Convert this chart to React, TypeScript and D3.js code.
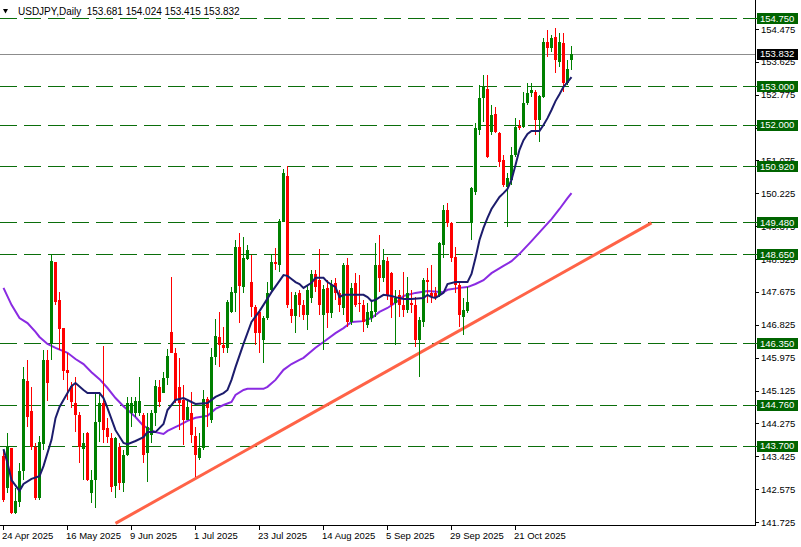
import React from 'react';
import * as d3 from 'd3';

// USDJPY daily candles (oldest first)
const opens = [
  143.43, 142.60, 143.63, 141.95, 142.25, 143.04, 145.37, 144.60, 143.67, 142.34,
  143.73, 145.91, 146.35, 148.44, 147.47, 146.74, 145.66, 145.24, 144.79, 144.49,
  143.60, 144.03, 142.47, 142.81, 144.30, 144.79, 144.15, 143.89, 142.66, 143.67,
  142.73, 143.46, 144.54, 144.54, 144.54, 144.49, 143.51, 143.98, 144.54, 145.22,
  145.06, 145.45, 146.64, 146.10, 145.22, 144.88, 144.36, 144.54, 143.95, 143.38,
  143.64, 144.91, 144.36, 145.99, 146.51, 146.30, 146.23, 147.16, 147.65, 148.84,
  147.80, 148.53, 147.93, 147.29, 147.16, 146.43, 147.00, 147.73, 148.45, 148.37,
  149.48, 150.67, 147.23, 147.05, 147.65, 147.34, 147.08, 147.52, 148.14, 147.98,
  147.08, 147.78, 147.13, 147.91, 147.65, 147.26, 148.37, 146.90, 147.91, 147.39,
  147.34, 146.82, 147.00, 147.16, 148.37, 148.04, 148.48, 148.17, 147.39, 147.60,
  147.34, 147.21, 147.39, 147.34, 146.43, 146.90, 147.98, 147.65, 147.65, 147.60,
  148.89, 149.79, 149.46, 148.58, 147.86, 147.03, 147.18, 149.46, 150.26, 151.86,
  152.69, 152.92, 151.81, 152.28, 151.78, 151.09, 150.39, 150.57, 151.22, 151.97,
  151.94, 152.56, 152.82, 152.85, 152.12, 152.72, 154.14, 153.98, 154.27, 153.62,
  154.11, 153.08, 153.681,
];
const highs = [
  143.59, 144.03, 143.64, 142.60, 143.24, 145.73, 145.91, 145.22, 143.76, 143.94,
  146.17, 146.17, 148.66, 148.46, 147.68, 146.74, 146.09, 145.35, 145.48, 144.58,
  144.02, 144.06, 143.07, 145.05, 145.05, 146.28, 144.42, 144.02, 143.93, 143.76,
  143.59, 144.97, 144.97, 144.97, 145.48, 144.54, 144.54, 144.62, 145.40, 145.40,
  145.60, 146.20, 148.06, 146.23, 145.97, 145.27, 144.88, 145.09, 144.18, 144.02,
  145.14, 144.96, 146.23, 146.97, 147.16, 146.77, 147.47, 147.80, 149.02, 149.20,
  149.10, 148.89, 148.63, 147.34, 147.16, 147.05, 147.93, 148.66, 148.81, 149.56,
  150.86, 150.93, 147.67, 147.67, 147.73, 147.47, 147.86, 148.24, 148.24, 148.79,
  147.86, 147.98, 147.98, 148.04, 147.73, 148.42, 148.55, 147.91, 148.17, 148.11,
  147.47, 147.39, 147.47, 148.94, 149.15, 148.79, 148.58, 148.19, 147.73, 147.73,
  148.19, 148.06, 147.73, 147.55, 147.03, 148.04, 148.29, 148.37, 147.80, 148.97,
  149.92, 149.97, 149.48, 148.84, 147.91, 147.52, 147.80, 150.39, 152.04, 153.03,
  153.29, 153.29, 152.51, 152.46, 151.81, 151.22, 150.75, 151.42, 152.17, 152.12,
  152.85, 153.08, 153.08, 152.90, 152.77, 154.24, 154.45, 154.32, 154.50, 154.37,
  154.37, 153.67, 154.024,
];
const lows = [
  142.24, 142.47, 141.94, 141.93, 142.12, 142.81, 144.19, 143.59, 142.30, 142.30,
  143.59, 144.86, 145.91, 147.34, 146.17, 145.40, 144.88, 144.67, 144.06, 143.24,
  142.81, 142.79, 142.21, 142.08, 143.80, 143.76, 143.76, 142.51, 142.34, 142.55,
  142.51, 143.42, 144.19, 144.45, 144.47, 143.24, 142.77, 143.76, 144.21, 144.70,
  145.06, 145.27, 146.10, 144.80, 144.10, 143.72, 144.36, 143.76, 142.89, 143.33,
  143.59, 144.18, 144.29, 145.79, 145.73, 146.10, 146.10, 147.13, 147.16, 146.87,
  147.65, 148.50, 147.03, 146.30, 146.10, 145.84, 146.95, 147.70, 148.24, 148.19,
  149.48, 147.26, 146.87, 146.61, 147.03, 146.95, 146.69, 147.39, 147.67, 147.08,
  146.17, 146.74, 147.00, 147.47, 147.16, 147.08, 146.77, 146.82, 147.29, 147.16,
  146.64, 146.74, 146.90, 147.03, 147.67, 147.93, 147.47, 147.00, 146.30, 147.03,
  147.03, 147.13, 147.13, 146.25, 145.47, 146.77, 147.39, 147.39, 147.47, 147.55,
  148.55, 149.36, 148.45, 147.65, 146.77, 146.56, 147.13, 149.02, 150.18, 151.73,
  152.07, 151.14, 151.73, 151.78, 150.91, 150.39, 149.36, 150.44, 151.16, 151.86,
  151.91, 152.51, 152.72, 151.73, 151.55, 152.69, 153.75, 153.88, 153.34, 153.49,
  152.85, 153.03, 153.415,
];
const closes = [
  142.30, 143.67, 141.95, 142.27, 143.04, 145.42, 144.45, 143.67, 142.34, 143.80,
  145.91, 145.33, 148.47, 147.42, 146.72, 145.63, 145.59, 144.84, 144.48, 143.67,
  143.76, 142.81, 142.81, 144.30, 144.80, 144.10, 143.93, 142.64, 143.89, 142.73,
  143.46, 144.81, 144.81, 144.86, 144.86, 143.46, 144.19, 144.54, 145.24, 144.83,
  145.45, 146.02, 146.10, 144.88, 144.80, 144.36, 144.70, 143.98, 143.46, 143.64,
  144.91, 144.68, 145.99, 146.54, 146.30, 146.23, 147.42, 147.67, 148.84, 147.83,
  148.55, 148.76, 147.29, 146.61, 146.61, 147.00, 147.65, 148.45, 148.40, 149.51,
  150.75, 147.34, 147.05, 147.60, 147.34, 147.08, 147.73, 148.14, 147.80, 147.34,
  147.75, 147.13, 147.86, 147.65, 147.34, 148.37, 146.90, 147.78, 147.34, 147.36,
  146.90, 147.16, 147.18, 148.37, 148.04, 148.50, 147.60, 147.34, 147.52, 147.34,
  147.21, 147.65, 147.34, 146.43, 146.95, 147.98, 147.93, 147.55, 147.55, 148.94,
  149.79, 149.46, 148.55, 147.86, 147.08, 147.21, 147.42, 150.36, 151.91, 152.69,
  152.98, 151.16, 152.25, 151.81, 151.03, 150.44, 150.62, 151.22, 151.94, 151.91,
  152.56, 152.82, 152.90, 152.12, 152.74, 154.14, 153.98, 154.24, 153.67, 154.14,
  153.08, 153.44, 153.832,
];

// moving averages as drawn on the chart: [bar index, price]
const fastMa: [number, number][] = [
  [0, 143.61], [1, 143.25], [2, 142.81], [4, 142.53], [5, 142.71], [7, 142.84], [9, 142.91],
  [10, 143.17], [12, 143.85], [13, 144.41], [14, 144.70], [16, 145.06], [17, 145.24], [18, 145.32],
  [20, 145.14], [21, 145.06], [24, 145.06], [25, 144.93], [26, 144.67], [28, 144.10], [30, 143.77],
  [31, 143.74], [33, 143.82], [35, 143.92], [36, 144.05], [38, 144.05], [40, 144.26], [41, 144.62],
  [43, 144.88], [45, 144.93], [46, 144.88], [48, 144.78], [51, 144.80], [53, 144.96], [55, 145.06],
  [56, 145.14], [57, 145.40], [58, 145.73], [60, 146.33], [62, 146.90], [64, 147.18], [65, 147.34],
  [67, 147.67], [69, 147.96], [70, 148.11], [71, 148.09], [72, 148.01], [73, 147.93], [74, 147.88],
  [75, 147.78], [77, 147.91], [78, 148.04], [80, 148.04], [81, 147.93], [83, 147.80], [84, 147.54],
  [85, 147.60], [90, 147.60], [91, 147.54], [92, 147.44], [93, 147.47], [95, 147.60], [97, 147.57],
  [98, 147.54], [100, 147.49], [102, 147.49], [105, 147.52], [106, 147.60], [107, 147.54], [108, 147.52],
  [110, 147.65], [111, 147.88], [113, 147.93], [116, 147.93], [117, 148.14], [118, 148.55], [119, 149.02],
  [120, 149.33], [121, 149.59], [122, 149.82], [124, 150.13], [125, 150.23], [126, 150.34], [127, 150.57],
  [128, 150.96], [129, 151.35], [130, 151.60], [131, 151.76], [132, 151.84], [134, 151.84], [135, 151.99],
  [136, 152.17], [137, 152.38], [138, 152.61], [139, 152.79], [140, 152.98], [141, 153.10], [142, 153.23],
];
const slowMa: [number, number][] = [
  [0, 147.78], [2, 147.34], [4, 147.00], [6, 146.87], [8, 146.64], [9, 146.51], [11, 146.33],
  [13, 146.23], [16, 146.10], [18, 145.94], [20, 145.81], [22, 145.60], [24, 145.42], [26, 145.19],
  [28, 144.93], [30, 144.72], [33, 144.44], [35, 144.21], [38, 144.05], [40, 144.00], [41, 144.08],
  [44, 144.23], [46, 144.34], [48, 144.42], [51, 144.47], [53, 144.65], [55, 144.75], [57, 144.83],
  [58, 145.01], [60, 145.14], [61, 145.17], [65, 145.17], [66, 145.22], [68, 145.40], [70, 145.66],
  [72, 145.81], [74, 145.92], [75, 145.97], [78, 146.23], [80, 146.38], [83, 146.61], [85, 146.74],
  [87, 146.90], [90, 146.92], [92, 147.00], [94, 147.16], [96, 147.26], [99, 147.47], [100, 147.57],
  [103, 147.65], [106, 147.70], [110, 147.67], [111, 147.73], [114, 147.78], [116, 147.80], [118, 147.88],
  [120, 147.98], [122, 148.16], [125, 148.35], [127, 148.47], [129, 148.66], [132, 148.99], [135, 149.33],
  [137, 149.56], [139, 149.82], [141, 150.10], [142, 150.23],
];

// support / resistance levels
const levels = [154.75, 153.0, 152.0, 150.92, 149.48, 148.65, 146.35, 144.76, 143.7];
const trendline: [number, number][] = [[28, 141.69], [162, 149.46]];
const lastPrice = 153.832;

const priceTicks = [
  154.475, 153.625, 152.775, 151.925, 151.075, 150.225, 149.375, 148.525,
  147.675, 146.825, 145.975, 145.125, 144.275, 143.425, 142.575, 141.725,
];
const dateLabels = [
  '24 Apr 2025', '16 May 2025', '9 Jun 2025', '1 Jul 2025', '23 Jul 2025',
  '14 Aug 2025', '5 Sep 2025', '29 Sep 2025', '21 Oct 2025',
];
const dateBars = [0, 16, 32, 48, 64, 80, 96, 112, 128];

const header = 'USDJPY,Daily  153.681 154.024 153.415 153.832';

const W = 801;
const H = 547;
const plotRight = 755;
const plotBottom = 525;
const font = '"Liberation Sans", Arial, sans-serif';
const up = '#008000';
const down = '#ff0000';
const levelColor = '#0b6e0b';

const App: React.FC = () => {
  const x = d3.scaleLinear().domain([0, 142]).range([3.5, 571.5]);
  const y = d3.scaleLinear().domain([141.725, 154.475]).range([522, 29]);
  const py = (v: number) => Math.round(y(v)) + 0.5;

  const maLine = d3.line<[number, number]>()
    .x(d => x(d[0]))
    .y(d => y(d[1]));

  return (
    <svg
      width={W}
      height={H}
      style={{ position: 'absolute', left: 0, top: 0, background: '#fff' }}
      fontFamily={font}
    >
      <defs>
        <clipPath id="plot">
          <rect x={0} y={0} width={plotRight} height={plotBottom} />
        </clipPath>
      </defs>

      {/* level lines */}
      <g shapeRendering="crispEdges">
        {levels.map(l => (
          <line key={l} x1={0} x2={plotRight} y1={py(l)} y2={py(l)}
            stroke={levelColor} strokeWidth={1} strokeDasharray="17,7" />
        ))}
        <line x1={0} x2={plotRight} y1={py(lastPrice)} y2={py(lastPrice)} stroke="#8c8c8c" strokeWidth={1} />
      </g>

      <g clipPath="url(#plot)">
        {/* trendline */}
        <line
          x1={x(trendline[0][0])} y1={y(trendline[0][1])}
          x2={x(trendline[1][0])} y2={y(trendline[1][1])}
          stroke="#ff6347" strokeWidth={3}
        />
        <path d={maLine(slowMa) || ''} fill="none" stroke="#8a2be2" strokeWidth={2} />
      </g>

      {/* candles */}
      <g shapeRendering="crispEdges">
        {closes.map((c, i) => {
          const o = opens[i];
          const col = c >= o ? up : down;
          const cx = Math.round(x(i) - 0.5) + 0.5;
          const top = Math.round(y(Math.max(o, c)));
          const bot = Math.round(y(Math.min(o, c)));
          return (
            <g key={i}>
              <line x1={cx} x2={cx} y1={Math.round(y(highs[i]))} y2={Math.round(y(lows[i]))} stroke={col} />
              <rect x={cx - 1.5} y={top} width={3} height={Math.max(1, bot - top)} fill={col} />
            </g>
          );
        })}
      </g>

      <path d={maLine(fastMa) || ''} fill="none" stroke="#1c1c6c" strokeWidth={2} />

      {/* header */}
      <path d="M3,9 L8,9 L5.5,13.5 Z" fill="#000" />
      <text x={18} y={15} fontSize={10} fill="#000" style={{ whiteSpace: 'pre' }}>{header}</text>

      {/* axes */}
      <g shapeRendering="crispEdges">
        <line x1={plotRight + 0.5} x2={plotRight + 0.5} y1={0} y2={plotBottom + 1} stroke="#000" />
        <line x1={0} x2={plotRight + 1} y1={plotBottom + 0.5} y2={plotBottom + 0.5} stroke="#000" />
        {priceTicks.map(t => (
          <line key={t} x1={plotRight} x2={plotRight + 4} y1={py(t)} y2={py(t)} stroke="#000" />
        ))}
        {dateBars.map(b => (
          <line key={b} x1={Math.round(x(b) - 0.5) + 0.5} x2={Math.round(x(b) - 0.5) + 0.5}
            y1={plotBottom} y2={plotBottom + 5} stroke="#000" />
        ))}
      </g>

      {priceTicks.map(t => (
        <text key={t} x={761} y={y(t) + 3.5} fontSize={9.5} fill="#000">{t.toFixed(3)}</text>
      ))}
      {dateLabels.map((lab, i) => (
        <text key={lab} x={x(dateBars[i]) - 1.5} y={539} fontSize={9.5} fill="#000">{lab}</text>
      ))}

      {/* level price boxes */}
      {levels.map(l => (
        <g key={l}>
          <line x1={plotRight - 12} x2={plotRight + 3} y1={py(l)} y2={py(l)} stroke={levelColor} shapeRendering="crispEdges" />
          <rect x={757} y={Math.round(y(l)) - 5} width={41} height={11} fill="#006400" shapeRendering="crispEdges" />
          <text x={760} y={y(l) + 3.5} fontSize={9.5} fill="#fff">{l.toFixed(3)}</text>
        </g>
      ))}
      <rect x={757} y={Math.round(y(lastPrice)) - 5} width={41} height={11} fill="#000" shapeRendering="crispEdges" />
      <text x={760} y={y(lastPrice) + 3.5} fontSize={9.5} fill="#fff">{lastPrice.toFixed(3)}</text>
    </svg>
  );
};

export default App;
